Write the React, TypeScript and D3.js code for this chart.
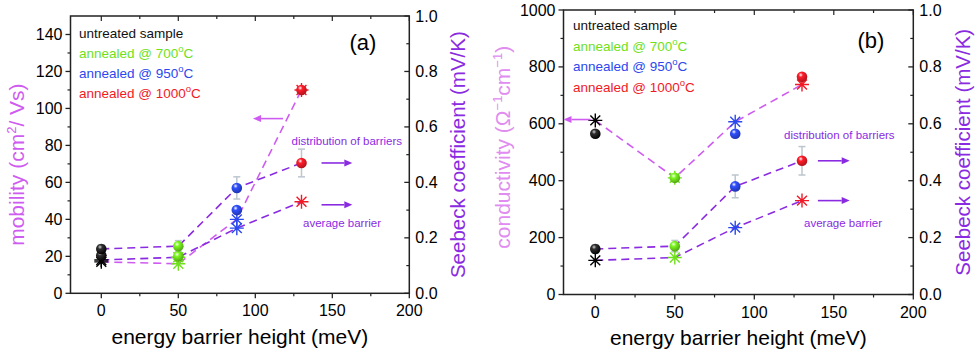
import React from "react";
import * as d3 from "d3";

// measured quantities, per sample (untreated, 700, 950, 1000 °C)
const barrierHeight = [0, 50, 88, 130];
const sampleNames = ["untreated sample", "annealed @ 700", "annealed @ 950", "annealed @ 1000"];
const sampleHasDegree = [false, true, true, true];
const mobilityDist = [20.5, 20, 45, 110];
const mobilityAvg = [17, 16, 40, 110];
const conductivityDist = [565, 410, 565, 765];
const conductivityAvg = [612, 410, 607, 738];
const seebeckDist = [0.16, 0.17, 0.38, 0.47];
const seebeckErr = [0.015, 0.02, 0.04, 0.05];
const seebeckAvg = [0.12, 0.13, 0.235, 0.33];

const xTicks = [0, 50, 100, 150, 200];
const mobilityTicks = [0, 20, 40, 60, 80, 100, 120, 140];
const conductivityTicks = [0, 200, 400, 600, 800, 1000];
const seebeckTicks = [0, 0.2, 0.4, 0.6, 0.8, 1.0];

const sampleColors = ["#000000", "#6fe01c", "#2b48ee", "#f01a26"];
const FONT = "'Liberation Sans', Arial, Helvetica, sans-serif";
const MAGENTA = "#cf5cf0";
const PURPLE = "#8a2be2";
const AXIS = "#222";

const Star = ({ x, y, color, r = 7 }) => {
  const d = [0, 45, 90, 135]
    .map((a) => {
      const t = (a * Math.PI) / 180;
      const dx = r * Math.cos(t), dy = r * Math.sin(t);
      return `M${x - dx},${y - dy}L${x + dx},${y + dy}`;
    })
    .join("");
  return <path d={d} stroke={color} strokeWidth={1.4} fill="none" />;
};

const Arrow = ({ x1, x2, y, color }) => {
  const dir = Math.sign(x2 - x1);
  const head = 8;
  return (
    <g>
      <line x1={x1} x2={x2 - dir * head} y1={y} y2={y} stroke={color} strokeWidth={1.6} />
      <path d={`M${x2},${y}L${x2 - dir * head},${y - 3.5}L${x2 - dir * head},${y + 3.5}Z`} fill={color} />
    </g>
  );
};

function Panel(p) {
  const x = d3.scaleLinear().domain([-20, 200]).range([p.left, p.right]);
  const yL = d3.scaleLinear().domain([0, p.yMax]).range([p.bottom, p.top]);
  const yR = d3.scaleLinear().domain([0, 1]).range([p.bottom, p.top]);
  const idx = d3.range(barrierHeight.length);

  const lineL = d3.line<number>().x((i) => x(barrierHeight[i])).y((i) => yL(p.avg[i]));
  const lineRd = d3.line<number>().x((i) => x(barrierHeight[i])).y((i) => yR(seebeckDist[i]));
  const lineRa = d3.line<number>().x((i) => x(barrierHeight[i])).y((i) => yR(seebeckAvg[i]));

  const xMinor = d3.range(25, 200, 50);
  const xAll = d3.range(0, 201, 25);
  const yMinor = d3.range(0, p.yMax, p.yMinorStep).filter((v) => !p.yTicks.includes(v) && v > 0);
  const rMinor = [0.1, 0.3, 0.5, 0.7, 0.9];
  const fmtR = d3.format(".1f");
  const cy = (p.top + p.bottom) / 2;

  const ball = (cxp, cyp, i) => (
    <circle cx={cxp} cy={cyp} r={5.3} fill={`url(#ball-${p.id}-${i})`} />
  );

  return (
    <g fontFamily={FONT}>
      <defs>
        {sampleColors.map((c, i) => (
          <radialGradient key={i} id={`ball-${p.id}-${i}`} cx="38%" cy="32%" r="70%">
            <stop offset="0%" stopColor={i === 0 ? "#d0d0d0" : "#ffffff"} />
            <stop offset="30%" stopColor={i === 0 ? "#303030" : d3.color(c).brighter(0.3).toString()} />
            <stop offset="100%" stopColor={i === 0 ? "#000" : d3.color(c).darker(0.9).toString()} />
          </radialGradient>
        ))}
      </defs>

      {/* error bars */}
      {idx.map((i) => {
        const xx = x(barrierHeight[i]);
        const y1 = yR(seebeckDist[i] - seebeckErr[i]);
        const y2 = yR(seebeckDist[i] + seebeckErr[i]);
        return (
          <g key={i} stroke="#bcc6ce" strokeWidth={1.5}>
            <line x1={xx} x2={xx} y1={y1} y2={y2} />
            <line x1={xx - 3.5} x2={xx + 3.5} y1={y1} y2={y1} />
            <line x1={xx - 3.5} x2={xx + 3.5} y1={y2} y2={y2} />
          </g>
        );
      })}

      {/* dashed lines */}
      <path d={lineL(idx)} fill="none" stroke={MAGENTA} strokeWidth={1.6} strokeDasharray="8,5" />
      <path d={lineRd(idx)} fill="none" stroke={PURPLE} strokeWidth={1.6} strokeDasharray="8,5" />
      <path d={lineRa(idx)} fill="none" stroke={PURPLE} strokeWidth={1.6} strokeDasharray="8,5" />

      {/* markers */}
      {idx.map((i) => (
        <g key={i}>
          <Star x={x(barrierHeight[i])} y={yL(p.avg[i])} color={sampleColors[i]} />
          <Star x={x(barrierHeight[i])} y={yR(seebeckAvg[i])} color={sampleColors[i]} />
          {ball(x(barrierHeight[i]), yL(p.dist[i]), i)}
          {ball(x(barrierHeight[i]), yR(seebeckDist[i]), i)}
        </g>
      ))}

      {/* frame */}
      <rect x={p.left} y={p.top} width={p.right - p.left} height={p.bottom - p.top} fill="none" stroke={AXIS} strokeWidth={1.5} />

      {/* bottom + top ticks */}
      {xTicks.map((t) => (
        <g key={t}>
          <line x1={x(t)} x2={x(t)} y1={p.bottom} y2={p.bottom + 5} stroke={AXIS} strokeWidth={1.3} />
          <text x={x(t)} y={p.bottom + 23} textAnchor="middle" fontSize={16}>{t}</text>
        </g>
      ))}
      {xMinor.map((t) => (
        <line key={t} x1={x(t)} x2={x(t)} y1={p.bottom} y2={p.bottom + 3} stroke={AXIS} strokeWidth={1.2} />
      ))}
      {xAll.map((t) => (
        <line key={t} x1={x(t)} x2={x(t)} y1={p.top} y2={p.top + (t % 50 === 0 ? 5 : 3)} stroke={AXIS} strokeWidth={1.2} />
      ))}

      {/* left axis */}
      {p.yTicks.map((t) => (
        <g key={t}>
          <line x1={p.left - 5} x2={p.left} y1={yL(t)} y2={yL(t)} stroke={AXIS} strokeWidth={1.3} />
          <text x={p.left - 8} y={yL(t) + 5.5} textAnchor="end" fontSize={16}>{t}</text>
        </g>
      ))}
      {yMinor.map((t) => (
        <line key={t} x1={p.left - 3} x2={p.left} y1={yL(t)} y2={yL(t)} stroke={AXIS} strokeWidth={1.2} />
      ))}

      {/* right axis */}
      {seebeckTicks.map((t) => (
        <g key={t}>
          <line x1={p.right - 5} x2={p.right} y1={yR(t)} y2={yR(t)} stroke={AXIS} strokeWidth={1.3} />
          <text x={p.right + 6} y={yR(t) + 5.5} fontSize={16}>{fmtR(t)}</text>
        </g>
      ))}
      {rMinor.map((t) => (
        <line key={t} x1={p.right - 3} x2={p.right} y1={yR(t)} y2={yR(t)} stroke={AXIS} strokeWidth={1.2} />
      ))}

      {/* axis titles */}
      <text x={(p.left + p.right) / 2} y={p.xTitleY} textAnchor="middle" fontSize={21}>energy barrier height (meV)</text>
      <text transform={`translate(${p.leftTitleX},${cy + p.leftTitleShift}) rotate(-90)`} textAnchor="middle" fontSize={21} fill={p.leftColor}>
        {p.leftTitle}
      </text>
      <text transform={`translate(${p.rightTitleX},${cy}) rotate(-90)`} textAnchor="middle" fontSize={20.5} fill={PURPLE}>
        Seebeck coefficient (mV/K)
      </text>

      {/* legend */}
      {sampleNames.map((s, i) => (
        <text key={s} x={p.legendX} y={p.legendY + i * p.legendDy} fontSize={13.5} fill={sampleColors[i] === "#000000" ? "#111" : sampleColors[i]}>
          {s}
          {sampleHasDegree[i] && (
            <>
              <tspan fontSize={9.5} dy={-6}>o</tspan>
              <tspan dy={6}>C</tspan>
            </>
          )}
        </text>
      ))}
      <text x={p.labelX} y={p.labelY} textAnchor="middle" fontSize={22}>{p.label}</text>

      {/* annotations */}
      <text x={x(p.distText[0])} y={yR(p.distText[1])} fontSize={11.5} fill={PURPLE}>distribution of barriers</text>
      <text x={x(p.avgText[0])} y={yR(p.avgText[1])} fontSize={11.5} fill={PURPLE}>average barrier</text>
      <Arrow x1={x(p.arrowX[0])} x2={x(p.arrowX[1])} y={yR(seebeckDist[3])} color={PURPLE} />
      <Arrow x1={x(p.arrowX[0])} x2={x(p.arrowX[1])} y={yR(seebeckAvg[3]) + p.avgArrowShift} color={PURPLE} />
      <Arrow x1={x(p.leftArrow[0])} x2={x(p.leftArrow[1])} y={yL(p.leftArrow[2])} color={MAGENTA} />
    </g>
  );
}

export default function App() {
  return (
    <div style={{ position: "absolute", left: 0, top: 0 }}>
      <svg width={979} height={356} style={{ display: "block", background: "#fff" }}>
        <Panel
          id="a"
          left={70.5}
          right={409.3}
          top={16}
          bottom={293.3}
          yMax={150}
          yTicks={mobilityTicks}
          yMinorStep={10}
          dist={mobilityDist}
          avg={mobilityAvg}
          leftColor={MAGENTA}
          leftTitle={
            <>
              mobility (cm<tspan fontSize={13} dy={-8}>2</tspan>
              <tspan dy={8}>/ Vs)</tspan>
            </>
          }
          leftTitleX={24}
          leftTitleShift={10}
          rightTitleX={465}
          xTitleY={344}
          legendX={79}
          legendY={38}
          legendDy={20}
          label="(a)"
          labelX={363}
          labelY={50}
          distText={[123.5, 0.535]}
          avgText={[131, 0.24]}
          arrowX={[143, 163]}
          avgArrowShift={3}
          leftArrow={[118, 98.5, 94.5]}
        />
        <Panel
          id="b"
          left={563.5}
          right={913.3}
          top={10}
          bottom={294.5}
          yMax={1000}
          yTicks={conductivityTicks}
          yMinorStep={100}
          dist={conductivityDist}
          avg={conductivityAvg}
          leftColor="#e08cf0"
          leftTitle={
            <>
              conductivity (Ω<tspan fontSize={13} dy={-8}>−1</tspan>
              <tspan dy={8}>cm</tspan>
              <tspan fontSize={13} dy={-8}>−1</tspan>
              <tspan dy={8}>)</tspan>
            </>
          }
          leftTitleX={510}
          leftTitleShift={-5}
          rightTitleX={970}
          xTitleY={345}
          legendX={573}
          legendY={30}
          legendDy={20.7}
          label="(b)"
          labelX={871}
          labelY={48}
          distText={[118.7, 0.547]}
          avgText={[131.3, 0.237]}
          arrowX={[140, 160]}
          avgArrowShift={0}
          leftArrow={[-3, -20, 615]}
        />
      </svg>
    </div>
  );
}
